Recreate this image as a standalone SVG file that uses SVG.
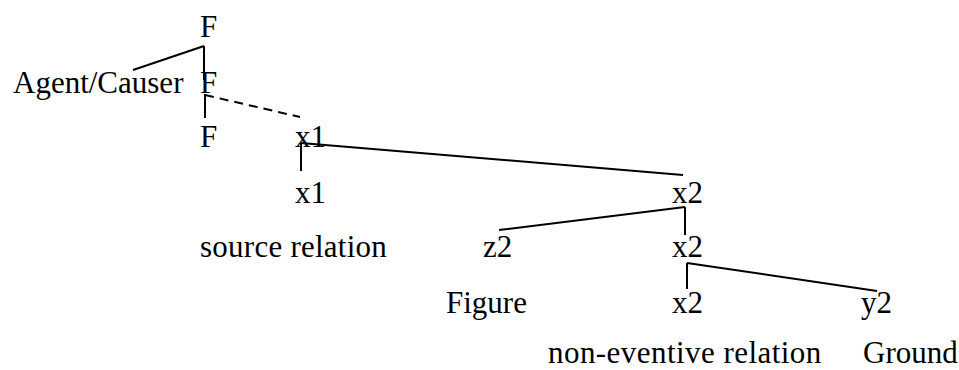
<svg xmlns="http://www.w3.org/2000/svg" width="959" height="370" viewBox="0 0 959 370">
<style>
text{font-family:"Liberation Serif","Times New Roman",serif;font-size:31px;fill:#000}
.e{stroke:#000;stroke-width:2;fill:none}
.d{stroke-dasharray:9 6}
</style>
<rect width="959" height="370" fill="#fff"/>
<g id="connectors">
<line class="e" x1="133" y1="70" x2="204" y2="46"/>
<line class="e" x1="204" y1="46" x2="204" y2="80"/>
<line class="e d" x1="205" y1="95" x2="300" y2="117"/>
<line class="e" x1="205" y1="94" x2="205" y2="118"/>
<line class="e" x1="301" y1="143" x2="683" y2="175"/>
<line class="e" x1="301" y1="143" x2="301" y2="171"/>
<line class="e" x1="499" y1="230" x2="685" y2="207"/>
<line class="e" x1="685" y1="207" x2="685" y2="235"/>
<line class="e" x1="687" y1="263" x2="877" y2="291"/>
<line class="e" x1="687" y1="263" x2="687" y2="289"/>
</g>
<g id="n1"><text x="200" y="37">F</text></g>
<g id="n2"><text x="13" y="93">Agent/Causer</text></g>
<g id="n3"><text x="200" y="93">F</text></g>
<g id="n4"><text x="200" y="147">F</text></g>
<g id="n5"><text x="295" y="147">x1</text></g>
<g id="n6"><text x="295" y="203">x1</text></g>
<g id="n7"><text x="672" y="203">x2</text></g>
<g id="n8"><text x="200" y="257" letter-spacing="0.25">source relation</text></g>
<g id="n9"><text x="483" y="257">z2</text></g>
<g id="n10"><text x="672" y="257">x2</text></g>
<g id="n11"><text x="446" y="313">Figure</text></g>
<g id="n12"><text x="672" y="313">x2</text></g>
<g id="n13"><text x="861" y="313">y2</text></g>
<g id="n14"><text x="548" y="363" letter-spacing="0.45">non-eventive relation</text></g>
<g id="n15"><text x="863" y="363">Ground</text></g>
</svg>
